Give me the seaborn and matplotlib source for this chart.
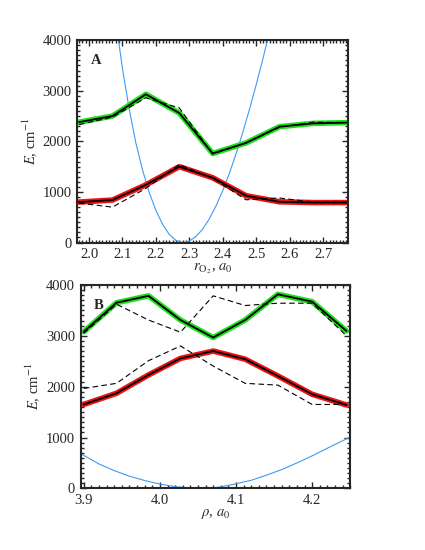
import numpy as np
import pandas as pd
import seaborn as sns
import matplotlib
matplotlib.use('Agg')
import matplotlib.pyplot as plt
from matplotlib.ticker import MultipleLocator, FormatStrFormatter

# panel A: energies vs r(O2)
r_o2 = [1.97, 2.07, 2.17, 2.27, 2.37, 2.47, 2.57, 2.67, 2.77]
a_upper = [2380, 2500, 2930, 2560, 1760, 1970, 2290, 2355, 2370]
a_lower = [800, 840, 1140, 1500, 1280, 925, 805, 790, 790]
a_upper_ref = [2330, 2480, 2860, 2660, 1750, 1970, 2280, 2380, 2370]
a_lower_ref = [780, 700, 1070, 1540, 1270, 845, 880, 800, 800]
a_pot_x = [2.088, 2.10, 2.12, 2.14, 2.16, 2.18, 2.20, 2.22, 2.24, 2.26, 2.281,
           2.30, 2.32, 2.34, 2.36, 2.38, 2.40, 2.42, 2.44, 2.46, 2.48, 2.50, 2.52, 2.534]
a_pot_e = [4000, 3440, 2640, 1970, 1435, 990, 636, 361, 161, 42, 0,
           29, 119, 266, 471, 725, 1027, 1372, 1757, 2179, 2633, 3117, 3627, 4000]

# panel B: energies vs rho
rho = [3.900, 3.943, 3.985, 4.027, 4.070, 4.112, 4.155, 4.200, 4.245]
b_upper = [3080, 3650, 3785, 3310, 2965, 3310, 3815, 3670, 3095]
b_lower = [1650, 1870, 2230, 2555, 2700, 2540, 2210, 1850, 1640]
b_upper_ref = [3050, 3620, 3310, 3070, 3785, 3595, 3640, 3640, 3000]
b_lower_ref = [1965, 2065, 2510, 2800, 2405, 2065, 2030, 1650, 1650]
b_pot_x = [3.895, 3.92, 3.94, 3.96, 3.98, 4.00, 4.02, 4.04, 4.055, 4.07, 4.08, 4.10,
           4.12, 4.14, 4.16, 4.18, 4.20, 4.22, 4.25]
b_pot_e = [690, 480, 350, 240, 155, 85, 35, 8, 0, 10, 30, 90,
           160, 260, 370, 500, 640, 790, 1010]

sns.set_style('ticks')
plt.rcParams['font.family'] = ['Liberation Serif', 'DejaVu Serif']
plt.rcParams['mathtext.fontset'] = 'stix'
plt.rcParams['font.size'] = 10.5

fig = plt.figure(figsize=(4.25, 5.5), dpi=100)
ax1 = fig.add_axes([0.182, 0.559, 0.637, 0.368])
ax2 = fig.add_axes([0.190, 0.112, 0.634, 0.370])


def draw_panel(ax, x, upper, lower, upper_ref, lower_ref, px, pe, label):
    df = pd.DataFrame({'x': x, 'upper': upper, 'lower': lower,
                       'upper_ref': upper_ref, 'lower_ref': lower_ref})
    pot = pd.DataFrame({'x': px, 'e': pe})
    sns.lineplot(data=pot, x='x', y='e', ax=ax, color='#3d9cf5', lw=0.8)
    sns.lineplot(data=df, x='x', y='upper', ax=ax, color='#1ee01e', lw=4)
    sns.lineplot(data=df, x='x', y='lower', ax=ax, color='#ee1111', lw=4)
    sns.lineplot(data=df, x='x', y='upper', ax=ax, color='black', lw=1.3)
    sns.lineplot(data=df, x='x', y='lower', ax=ax, color='black', lw=1.3)
    sns.lineplot(data=df, x='x', y='upper_ref', ax=ax, color='black', lw=0.8, ls=(0, (5, 3)))
    sns.lineplot(data=df, x='x', y='lower_ref', ax=ax, color='black', lw=0.8, ls=(0, (5, 3)))
    ax.set_ylim(0, 4000)
    ax.yaxis.set_major_locator(MultipleLocator(1000))
    ax.yaxis.set_minor_locator(MultipleLocator(100))
    ax.xaxis.set_major_locator(MultipleLocator(0.1))
    ax.xaxis.set_minor_locator(MultipleLocator(0.01))
    ax.xaxis.set_major_formatter(FormatStrFormatter('%.1f'))
    ax.tick_params(which='both', direction='in', top=True, right=True, labelsize=10.5, width=1)
    ax.tick_params(axis='x', pad=4)
    ax.tick_params(axis='y', pad=4)
    ax.tick_params(which='major', length=4)
    ax.tick_params(which='minor', length=2)
    for s in ax.spines.values():
        s.set_linewidth(1.5)
    ax.set_ylabel('$E$, cm$^{-1}$', fontsize=10.5, labelpad=3)
    ax.text(0.05, 0.93, label, transform=ax.transAxes, fontsize=10.5, fontweight='bold', va='top')


draw_panel(ax1, r_o2, a_upper, a_lower, a_upper_ref, a_lower_ref, a_pot_x, a_pot_e, 'A')
ax1.set_xlim(1.965, 2.775)
ax1.set_xlabel(r'$r_{\mathrm{O}_2}$, $a_0$', fontsize=10.5, labelpad=0)

draw_panel(ax2, rho, b_upper, b_lower, b_upper_ref, b_lower_ref, b_pot_x, b_pot_e, 'B')
ax2.set_xlim(3.896, 4.25)
ax2.set_xlabel(r'$\rho$, $a_0$', fontsize=10.5, labelpad=0)

fig.savefig('out.png', dpi=100)
